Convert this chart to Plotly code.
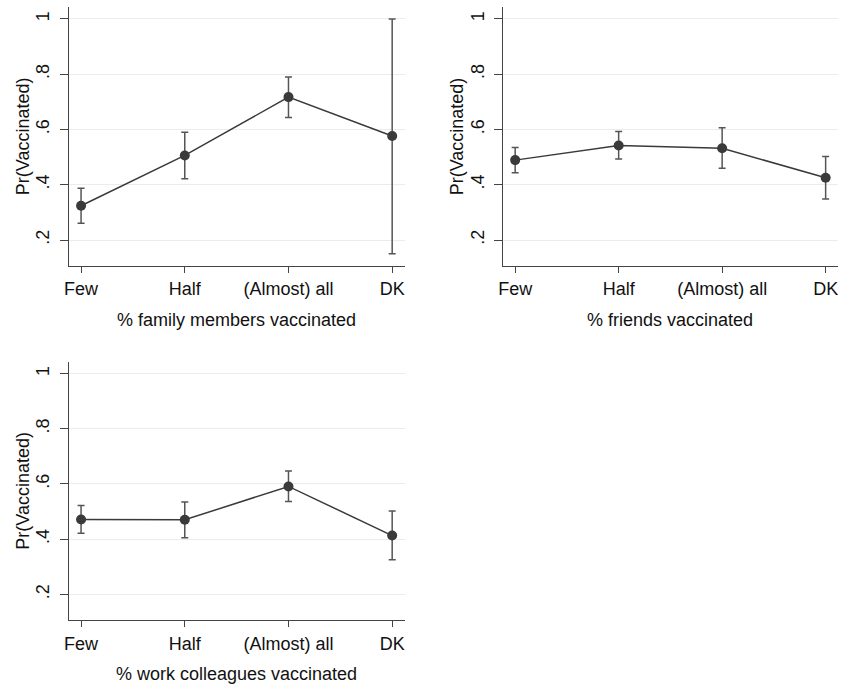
import plotly.graph_objects as go

categories = ["Few", "Half", "(Almost) all", "DK"]
y_ticks = [0.2, 0.4, 0.6, 0.8, 1.0]
y_tick_labels = [".2", ".4", ".6", ".8", "1"]

family_est = [0.324, 0.506, 0.717, 0.576]
family_lo = [0.261, 0.422, 0.643, 0.150]
family_hi = [0.387, 0.590, 0.790, 1.000]

friends_est = [0.489, 0.542, 0.532, 0.425]
friends_lo = [0.443, 0.493, 0.460, 0.348]
friends_hi = [0.535, 0.593, 0.606, 0.502]

work_est = [0.471, 0.470, 0.591, 0.413]
work_lo = [0.421, 0.405, 0.536, 0.325]
work_hi = [0.522, 0.535, 0.647, 0.502]

titles = ["% family members vaccinated", "% friends vaccinated", "% work colleagues vaccinated"]
y_title = "Pr(Vaccinated)"

W, H = 848, 687
panels = [
    # (x0px, x1px, y0px(top), y1px(bottom))
    (64, 402, 7, 265.7),
    (500.7, 838, 7, 265.7),
    (64, 402, 361.7, 620),
]
series = [
    (family_est, family_lo, family_hi),
    (friends_est, friends_lo, friends_hi),
    (work_est, work_lo, work_hi),
]

FONT = "Liberation Sans, Arial, sans-serif"
FS = 18
fig = go.Figure()
xpos = list(range(1, len(categories) + 1))

for i, ((x0, x1, t, b), (est, lo, hi), title) in enumerate(zip(panels, series, titles)):
    n = i + 1
    xa = "x" if n == 1 else f"x{n}"
    ya = "y" if n == 1 else f"y{n}"
    fig.add_trace(go.Scatter(
        x=xpos, y=est, mode="lines+markers",
        xaxis=xa, yaxis=ya,
        line=dict(color="#3a3a3a", width=1.5),
        marker=dict(color="#3a3a3a", size=10),
        error_y=dict(type="data", symmetric=False,
                     array=[h - e for h, e in zip(hi, est)],
                     arrayminus=[e - l for e, l in zip(est, lo)],
                     color="#555555", thickness=1.5, width=3.5),
        showlegend=False, hoverinfo="skip",
    ))
    xkey = "xaxis" if n == 1 else f"xaxis{n}"
    ykey = "yaxis" if n == 1 else f"yaxis{n}"
    fig.update_layout(**{
        xkey: dict(
            domain=[x0 / W, x1 / W], anchor=ya, range=[0.88, 4.12],
            tickmode="array", tickvals=xpos, ticktext=categories,
            ticks="outside", ticklen=6, tickcolor="#444", tickwidth=1,
            ticklabelstandoff=1,
            showline=True, linecolor="#444", linewidth=1,
            showgrid=False, zeroline=False,
            tickfont=dict(family=FONT, size=FS, color="#111"),
        ),
        ykey: dict(
            domain=[1 - b / H, 1 - t / H], anchor=xa, range=[0.107, 1.043],
            tickmode="array", tickvals=y_ticks, ticktext=y_tick_labels,
            tickangle=-90, ticks="outside", ticklen=8, tickcolor="#444", tickwidth=1,
            ticklabelstandoff=3,
            showline=True, linecolor="#444", linewidth=1,
            showgrid=True, gridcolor="#ececec", gridwidth=1, zeroline=False,
            tickfont=dict(family=FONT, size=FS, color="#111"),
        ),
    })
    # x title
    fig.add_annotation(
        text=title, xref="paper", yref="paper",
        x=(x0 + x1) / 2 / W, y=1 - (b + 54) / H,
        xanchor="center", yanchor="middle", showarrow=False,
        font=dict(family=FONT, size=FS, color="#111"),
    )
    # y title
    fig.add_annotation(
        text=y_title, xref="paper", yref="paper",
        x=(x0 - 46) / W, y=1 - ((t + b) / 2) / H,
        xanchor="center", yanchor="middle", showarrow=False, textangle=-90,
        font=dict(family=FONT, size=FS, color="#111"),
    )

fig.update_layout(
    width=W, height=H,
    margin=dict(l=0, r=0, t=0, b=0),
    paper_bgcolor="white", plot_bgcolor="white",
)
fig.write_html("out.html", config={"displayModeBar": False},
               post_script="document.body.style.margin='0';")
